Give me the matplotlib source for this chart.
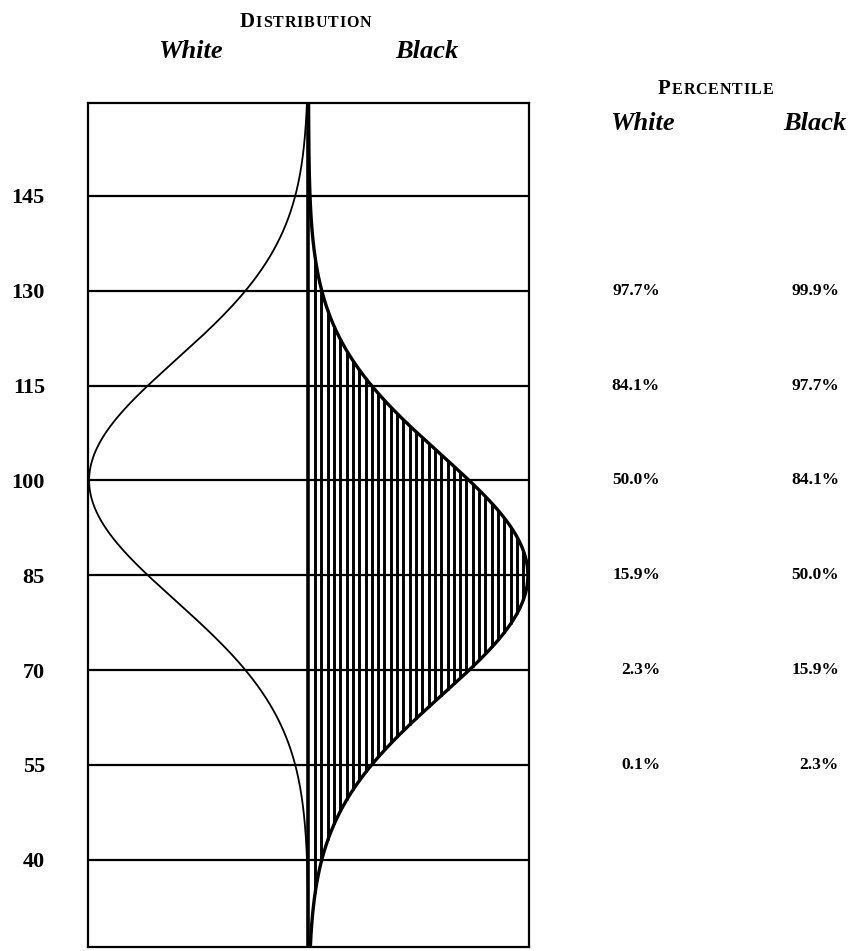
import numpy as np
import matplotlib.pyplot as plt

plt.rcParams['font.family'] = ['Liberation Serif', 'DejaVu Serif']

# IQ levels marked on the chart and the two group distributions
iq_levels = [145, 130, 115, 100, 85, 70, 55, 40]
white_mean, black_mean = 100, 85
drawn_sd = 19  # spread of the drawn curves (the artist drew them a bit wide)

# percentile table, row by row at these IQ levels
pct_levels = [130, 115, 100, 85, 70, 55]
white_pct = ["97.7%", "84.1%", "50.0%", "15.9%", "2.3%", "0.1%"]
black_pct = ["99.9%", "97.7%", "84.1%", "50.0%", "15.9%", "2.3%"]

W, H = 848, 951
fig = plt.figure(figsize=(W / 100, H / 100), dpi=100)
ax = fig.add_axes([88 / W, 1 - 947 / H, 441 / W, 844 / H])

ymin, ymax = 26.2, 159.7
ax.set_xlim(-1, 1)
ax.set_ylim(ymin, ymax)

y = np.linspace(ymin, ymax, 800)
peak = 0.995
white_x = -peak * np.exp(-(y - white_mean) ** 2 / (2 * drawn_sd ** 2))
black_x = peak * np.exp(-(y - black_mean) ** 2 / (2 * drawn_sd ** 2))

# vertical hatching under the black curve
for xv in np.arange(0.03, peak, 0.0286):
    half = drawn_sd * np.sqrt(-2 * np.log(xv / peak))
    ax.plot([xv, xv], [max(black_mean - half, ymin), min(black_mean + half, ymax)],
            color='black', lw=2.1, solid_capstyle='butt')

# horizontal lines
for lv in iq_levels:
    ax.axhline(lv, color='black', lw=1.6)

ax.plot(white_x, y, color='black', lw=1.3)
ax.plot(black_x, y, color='black', lw=2.4)
ax.axvline(0, color='black', lw=2.6)

for s in ax.spines.values():
    s.set_linewidth(1.6)

ax.set_xticks([])
ax.set_yticks(iq_levels)
ax.set_yticklabels([str(v) for v in iq_levels], fontsize=16, fontweight='bold')
ax.tick_params(axis='y', length=0, pad=31)


def fx(px):
    return px / W


def fy(py):
    return 1 - py / H


# percentile values, right-aligned in two columns
for lv, wp, bp in zip(pct_levels, white_pct, black_pct):
    ypos = fig.transFigure.inverted().transform(ax.transData.transform((0, lv)))[1]
    fig.text(fx(660), ypos, wp, ha='right', va='center', fontsize=12.5, fontweight='bold')
    fig.text(fx(839), ypos, bp, ha='right', va='center', fontsize=12.5, fontweight='bold')

renderer = fig.canvas.get_renderer()


def small_caps(xleft, ybase, word, spacing=1.0):
    # word drawn letter by letter: big first capital, small capitals after it
    x = xleft
    for i, ch in enumerate(word):
        t = fig.text(fx(x), fy(ybase), ch, ha='left', va='baseline',
                     fontsize=15 if i == 0 else 11.5, fontweight='bold')
        x += t.get_window_extent(renderer).width + spacing


small_caps(240, 27, "DISTRIBUTION", spacing=0.9)
small_caps(658, 94, "PERCENTILE", spacing=0.9)

hdr = dict(fontsize=19, fontweight='bold', style='italic', va='center', ha='center')
fig.text(fx(191), fy(51), "White", **hdr)
fig.text(fx(427), fy(51), "Black", **hdr)
fig.text(fx(642), fy(123), "White", **hdr)
fig.text(fx(815), fy(123), "Black", **hdr)

fig.savefig("out.png", dpi=100)
